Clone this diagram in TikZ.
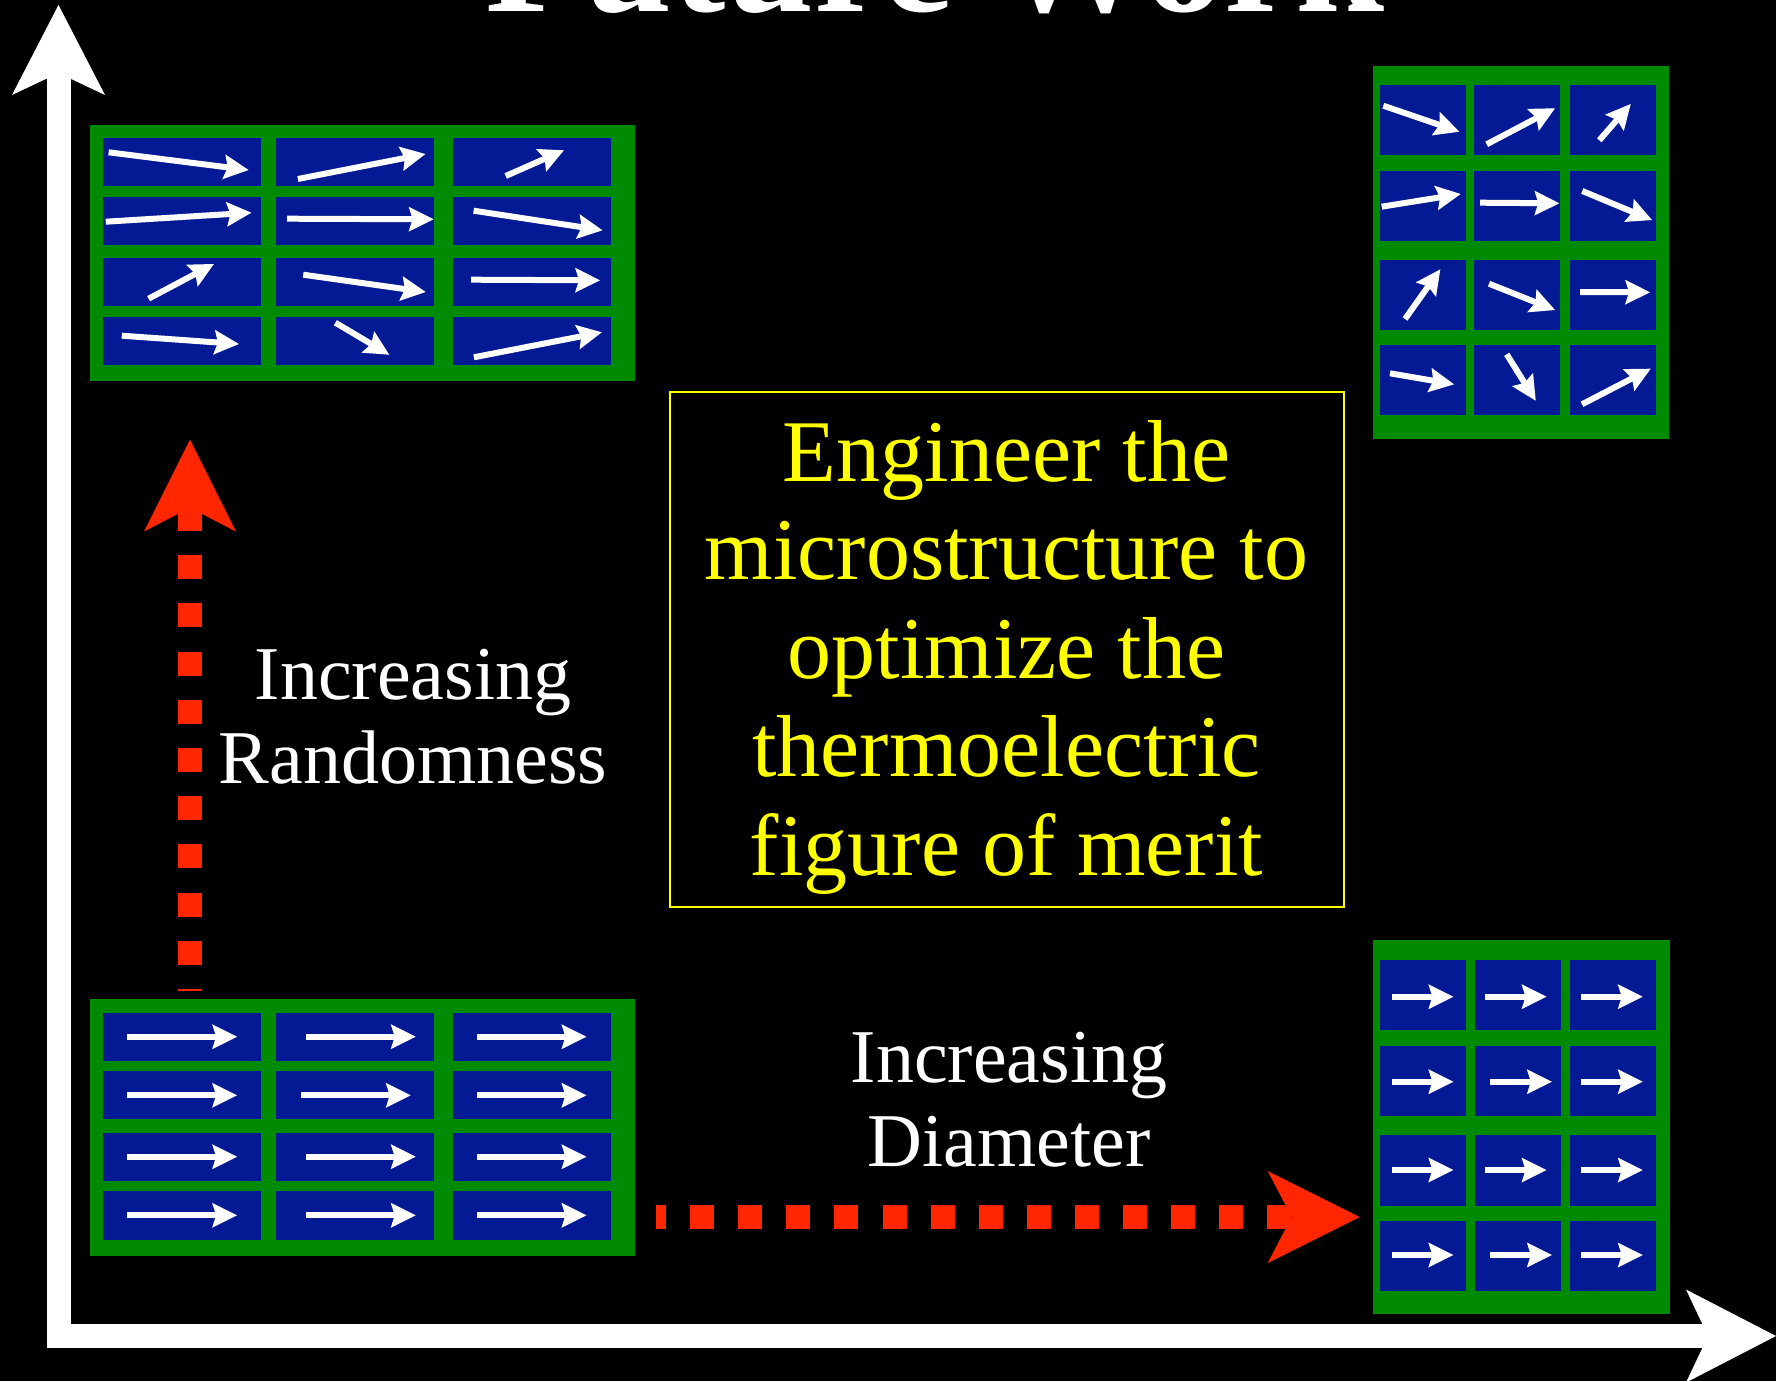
\documentclass[tikz,border=0pt]{standalone}
\usepackage{fontspec}
\setmainfont{Liberation Serif}
\usetikzlibrary{arrows.meta}

\definecolor{gridgreen}{RGB}{0,138,0}
\definecolor{cellblue}{RGB}{3,26,148}
\definecolor{arrowred}{RGB}{255,38,0}
\definecolor{goalyellow}{RGB}{255,255,0}

\tikzset{
  axisline/.style={white, line width=24pt,
    -{Stealth[length=90pt, width=93pt, inset=22pt, line width=0pt]}},
  trendv/.style={arrowred, line width=24pt,
    dash pattern=on 24pt off 24.2pt, dash phase=21.7pt,
    -{Stealth[length=92pt, width=92pt, inset=24pt, line width=0pt]}},
  trendh/.style={arrowred, line width=24pt,
    dash pattern=on 24pt off 24.1pt, dash phase=13.6pt,
    -{Stealth[length=92pt, width=92pt, inset=24pt, line width=0pt]}},
  spin/.style={white, line width=6pt,
    -{Stealth[length=25pt, width=25pt, inset=4pt, line width=0pt]}},
  label/.style={white, inner sep=0pt, anchor=base, font=\fontsize{76}{84}\selectfont},
  goalline/.style={goalyellow, inner sep=0pt, anchor=base, font=\fontsize{88}{98}\selectfont},
  goalbox/.style={draw=goalyellow, line width=2pt, inner sep=0pt},
}

% one spin arrow from tail to tip
\newcommand\spinarrow[4]{\draw[spin] (#1,#2) -- (#3,#4);}

\begin{document}
\begin{tikzpicture}[x=1pt, y=-1pt]
  \useasboundingbox (0,0) rectangle (1776,1381);
  \fill[black] (0,0) rectangle (1776,1381);

  % title, mostly above the page
  \node[white, inner sep=0pt, anchor=base,
        font=\bfseries\fontsize{160}{170}\selectfont] (title) at (935,12) {Future Work};

  % axes
  \coordinate (origin-v) at (58.5,1341);
  \coordinate (top-v) at (58.5,5);
  \coordinate (origin-h) at (47,1336);
  \coordinate (end-h) at (1776,1336);
  \draw[axisline] (origin-v) -- (top-v);
  \draw[axisline] (origin-h) -- (end-h);

  % --- grid frames ---
  \fill[gridgreen] (90,125) rectangle (634.6,380.7);
  \fill[gridgreen] (90,999) rectangle (634.6,1255.7);
  \fill[gridgreen] (1372.7,66) rectangle (1669.3,439);
  \fill[gridgreen] (1372.7,940) rectangle (1670,1314);

  % --- cells: wide grids on the left ---
  \foreach \ya/\yb in {138/186, 197/244.7, 258/306, 317/364.7,
                       1013/1061, 1071/1119, 1133/1181, 1191/1239.7}{
    \foreach \xa/\xb in {102.9/261.1, 276.1/433.9, 452.9/611.1}{
      \fill[cellblue] (\xa,\ya) rectangle (\xb,\yb);
    }
  }
  % --- cells: narrow grids on the right ---
  \foreach \ya/\yb in {85/155, 171/241, 260/329.7, 345/415}{
    \foreach \xa/\xb in {1380/1466, 1474/1560, 1570/1656}{
      \fill[cellblue] (\xa,\ya) rectangle (\xb,\yb);
    }
  }
  \foreach \ya/\yb in {960/1030, 1046/1116, 1135/1206, 1221/1291}{
    \foreach \xa/\xb in {1380/1466, 1475/1561, 1570/1656}{
      \fill[cellblue] (\xa,\ya) rectangle (\xb,\yb);
    }
  }

  % --- spins: random, long grains ---
  \spinarrow{108.6}{152.3}{248.6}{170}
  \spinarrow{297.9}{179}{425.4}{154}
  \spinarrow{505.7}{176}{563.9}{150.3}
  \spinarrow{105.7}{221.7}{251.4}{212.7}
  \spinarrow{287.1}{218.7}{433.6}{219.3}
  \spinarrow{473.6}{210.7}{602.5}{230.3}
  \spinarrow{148.6}{298.7}{213.9}{264}
  \spinarrow{303.2}{274.7}{425.7}{292}
  \spinarrow{471.1}{279.7}{600}{280.3}
  \spinarrow{121.8}{335.7}{238.9}{344}
  \spinarrow{335.4}{322.7}{389.3}{354.7}
  \spinarrow{473.9}{357.3}{601.8}{332.3}

  % --- spins: random, short grains ---
  \spinarrow{1383.3}{105.7}{1459.3}{131.7}
  \spinarrow{1486.7}{144.3}{1555}{108.3}
  \spinarrow{1599.3}{140.3}{1630.7}{104}
  \spinarrow{1381.7}{206.7}{1460.7}{194}
  \spinarrow{1480}{202.7}{1559.3}{203.3}
  \spinarrow{1582.3}{191}{1652}{220}
  \spinarrow{1405}{319}{1440.3}{269.3}
  \spinarrow{1489}{283.7}{1555}{310}
  \spinarrow{1580}{292}{1650}{292.3}
  \spinarrow{1390}{373.3}{1454}{384.3}
  \spinarrow{1506.7}{354.3}{1535.7}{400.7}
  \spinarrow{1582}{404.3}{1650.7}{368.7}

  % --- spins: aligned, long grains ---
  \foreach \y/\xb in {1036.7/306.1, 1095.3/301.1, 1156.7/306.1, 1215.3/306.1}{
    \draw[spin] (127.1,\y) -- (237.1,\y);
    \draw[spin] (\xb,\y) -- ({\xb+109.6},\y);
    \draw[spin] (477.1,\y) -- (586.4,\y);
  }
  % --- spins: aligned, short grains ---
  \foreach \y/\xb in {996.7/1485, 1081.7/1490.3, 1170/1485, 1255/1490.3}{
    \draw[spin] (1391.7,\y) -- (1453.3,\y);
    \draw[spin] (\xb,\y) -- ({\xb+61.5},\y);
    \draw[spin] (1581,\y) -- (1642.7,\y);
  }

  % --- trend arrows ---
  \coordinate (rand-start) at (190,991.3);
  \coordinate (rand-end) at (190,439.6);
  \draw[trendv] (rand-start) -- (rand-end);
  \coordinate (diam-start) at (655.6,1217);
  \coordinate (diam-end) at (1359.7,1217);
  \draw[trendh] (diam-start) -- (diam-end);

  \node[label] (rand1) at (413,699.3) {Increasing};
  \node[label] (rand2) at (413,783.3) {Randomness};
  \node[label] (diam1) at (1009,1082) {Increasing};
  \node[label] (diam2) at (1009,1166.7) {Diameter};

  % --- goal statement ---
  \node[goalbox, minimum width=673.7pt, minimum height=515pt] (goal) at (1006.65,649.2) {};
  \node[goalline] (goal1) at (1006.5,481.7) {Engineer the};
  \node[goalline] (goal2) at (1006.5,579.3) {microstructure to};
  \node[goalline] (goal3) at (1006.5,678) {optimize the};
  \node[goalline] (goal4) at (1006.5,776.7) {thermoelectric};
  \node[goalline] (goal5) at (1006.5,875) {figure of merit};
\end{tikzpicture}
\end{document}
